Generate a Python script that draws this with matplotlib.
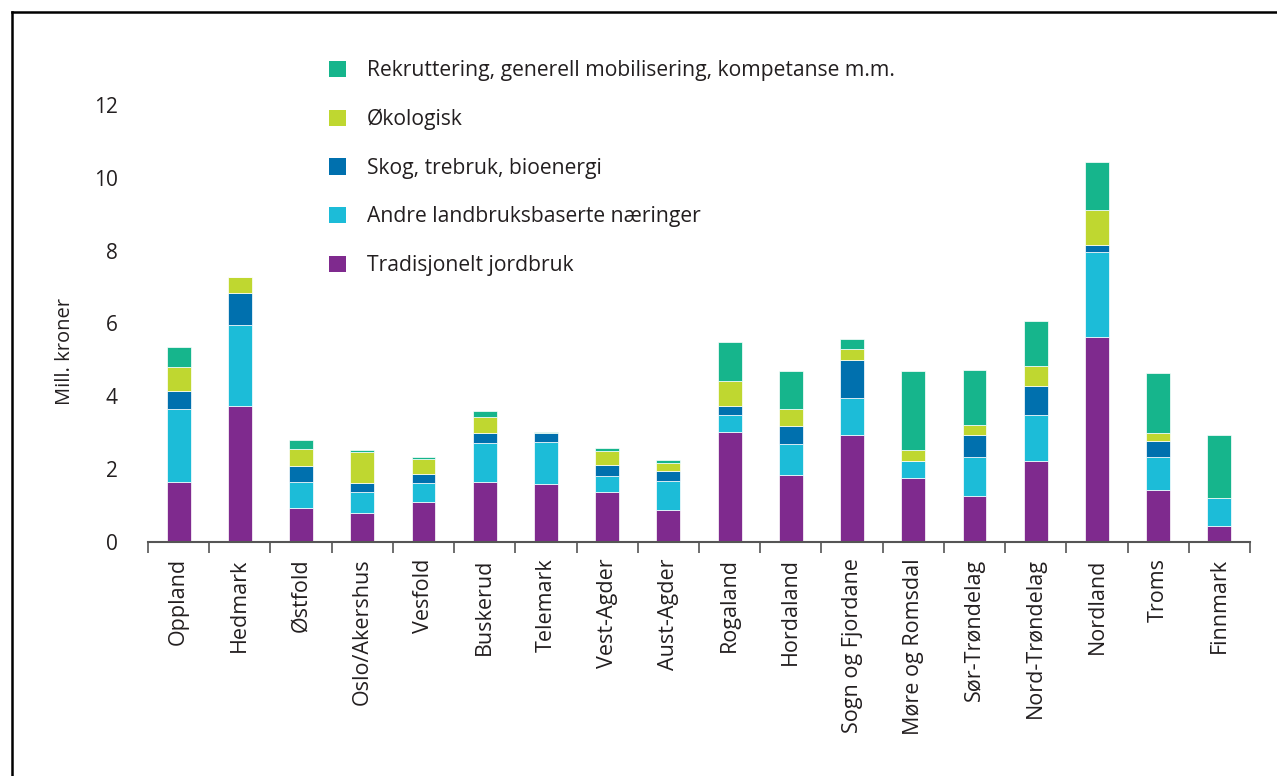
import matplotlib
matplotlib.use("Agg")
import matplotlib.pyplot as plt
from matplotlib.patches import Patch
from matplotlib.lines import Line2D
import numpy as np

plt.rcParams['font.family'] = ['Open Sans', 'DejaVu Sans']

regions = ["Oppland", "Hedmark", "Østfold", "Oslo/Akershus", "Vesfold", "Buskerud",
           "Telemark", "Vest-Agder", "Aust-Agder", "Rogaland", "Hordaland",
           "Sogn og Fjordane", "Møre og Romsdal", "Sør-Trøndelag", "Nord-Trøndelag",
           "Nordland", "Troms", "Finnmark"]

tradisjonelt = [1.65, 3.74, 0.93, 0.78, 1.10, 1.63, 1.58, 1.37, 0.88, 3.02, 1.84,
                2.92, 1.76, 1.26, 2.23, 5.63, 1.42, 0.44]
andre = [1.99, 2.21, 0.71, 0.58, 0.51, 1.08, 1.16, 0.43, 0.79, 0.47, 0.84,
         1.02, 0.45, 1.07, 1.24, 2.33, 0.91, 0.75]
skog = [0.51, 0.89, 0.45, 0.25, 0.25, 0.28, 0.25, 0.31, 0.27, 0.25, 0.51,
        1.06, 0.00, 0.61, 0.82, 0.20, 0.43, 0.00]
okologisk = [0.64, 0.44, 0.45, 0.85, 0.40, 0.45, 0.00, 0.38, 0.21, 0.68, 0.45,
             0.29, 0.31, 0.27, 0.54, 0.96, 0.23, 0.02]
rekruttering = [0.57, 0.00, 0.25, 0.06, 0.06, 0.16, 0.02, 0.08, 0.10, 1.07, 1.06,
                0.27, 2.18, 1.51, 1.23, 1.30, 1.64, 1.72]

series_names = ["Tradisjonelt jordbruk", "Andre landbruksbaserte næringer",
                "Skog, trebruk, bioenergi", "Økologisk",
                "Rekruttering, generell mobilisering, kompetanse m.m."]
series_vals = [tradisjonelt, andre, skog, okologisk, rekruttering]
colors = ["#7F2A8E", "#1CBCD8", "#0070AE", "#BFD730", "#16B58C"]

W, H = 1277, 776
fig = plt.figure(figsize=(W / 100, H / 100), dpi=100)
ax = fig.add_axes([148 / W, 1 - 541.7 / H, (1250 - 148) / W, (541.7 - 105) / H])

x = np.arange(len(regions))
bottom = np.zeros(len(regions))
for name, vals, c in zip(series_names, series_vals, colors):
    v = np.array(vals)
    ax.bar(x, v, width=0.39, bottom=bottom, color=c, edgecolor='white',
           linewidth=0.5, label=name)
    bottom += v

ax.set_xlim(-0.5, len(regions) - 0.5)
ax.set_ylim(0, 12)
ax.set_yticks([0, 2, 4, 6, 8, 10, 12])
ax.tick_params(axis='y', length=0, pad=22, labelsize=15, colors='#231F20')
ax.set_xticks(x)
ax.set_xticklabels(regions, rotation=90, fontsize=15.5, color='#231F20')
ax.set_xticks(np.arange(-0.5, len(regions)), minor=True)
ax.tick_params(axis='x', which='major', length=0, pad=12)
ax.tick_params(axis='x', which='minor', length=8, width=1.2, color='#555555')
for s in ['top', 'right', 'left']:
    ax.spines[s].set_visible(False)
ax.spines['bottom'].set_color('#555555')
ax.spines['bottom'].set_linewidth(1.5)

fig.text(65 / W, 1 - 352 / H, "Mill. kroner", rotation=90, ha='center', va='center',
         fontsize=14.5, color='#231F20')

handles = [Patch(facecolor=c, edgecolor='none') for c in colors][::-1]
labels = series_names[::-1]
fig.legend(handles, labels, loc='upper left', bbox_to_anchor=(329 / W, 1 - 60 / H),
           frameon=False, fontsize=15.2, handlelength=0.8, handleheight=0.8,
           handletextpad=1.0, labelspacing=1.31, borderpad=0, borderaxespad=0,
           labelcolor='#231F20')

# figure border (top and left)
fig.add_artist(Line2D([12 / W, 12 / W], [0, 1 - 12 / H], transform=fig.transFigure,
                      color='black', linewidth=1.8))
fig.add_artist(Line2D([12 / W, 1], [1 - 12 / H, 1 - 12 / H], transform=fig.transFigure,
                      color='black', linewidth=1.8))

fig.savefig("out.png", dpi=100)
